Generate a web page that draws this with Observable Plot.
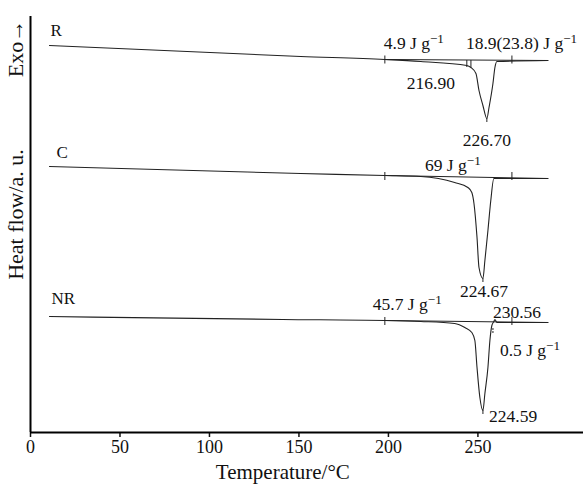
<!DOCTYPE html>
<html><head><meta charset="utf-8">
<script src="https://cdn.jsdelivr.net/npm/d3@7"></script>
<script src="https://cdn.jsdelivr.net/npm/@observablehq/plot@0.6"></script>
<style>body{margin:0;background:#fff}</style>
</head><body><div id="chart"></div>
<script>
// x ticks of the drawn axis
const xTicks = [0, 50, 100, 150, 200, 250];
// curve samples: temperature (read against the drawn axis) and heat flow (a.u.)
const rT  = [10.6, 151.0, 198.0, 218.1, 243.8, 246.1, 248.9, 250.6, 252.8, 255.0, 256.2, 258.4, 259.5, 260.6, 289.1];
const rH  = [387, 376, 373, 371, 367, 365, 359, 342, 327, 314, 325, 349, 365, 371, 372];
const cT  = [10.6, 151.0, 198.0, 218.1, 237.0, 244.4, 246.6, 247.8, 249.5, 250.6, 252.8, 253.9, 255.6, 257.2, 258.9, 289.1];
const cH  = [266, 259, 257, 256, 250, 245, 240, 229, 195, 165, 154, 172, 202, 232, 254, 254];
const nrT = [10.6, 140.9, 198.0, 218.1, 237.0, 242.7, 246.6, 248.3, 249.5, 251.1, 252.8, 253.9, 255.6, 256.7, 257.8, 258.9, 259.5, 260.6, 289.1];
const nrH = [116, 113, 112, 111, 109, 105, 100, 92, 65, 35, 22, 39, 65, 92, 107, 111, 113, 110, 110];
// straight baselines
const baseT = [198.0, 289.1];
const rBase = [373, 372];
const cBase = [257, 254];
const nrBase = [112, 110];
// integration limit markers
const markT = [198.0, 269.0];
const markH = [372.5, 256, 111];
// peaks
const peakT = [255.0, 252.8, 252.8];
const peakH = [314, 154, 22];
// sample names
const names = ["R", "C", "NR"];
const nameT = [11.2, 14.5, 11.7];
const nameH = [402, 280, 134];
// annotations
const annText = ["4.9 J g⁻¹", "18.9(23.8) J g⁻¹", "216.90", "226.70", "69 J g⁻¹", "224.67", "45.7 J g⁻¹", "230.56", "0.5 J g⁻¹", "224.59"];
const annT    = [197.4, 243.3, 223.7, 255.0, 220.4, 253.4, 191.3, 258.4, 262.3, 256.2];
const annH    = [389, 389, 349, 292, 267, 141, 128, 120, 82, 16];
const annAnchor = ["start", "start", "middle", "middle", "start", "middle", "start", "start", "start", "start"];

const line = (T, H) => T.map((t, i) => ({t, h: H[i]}));
const ann = annText.map((s, i) => ({s, t: annT[i], h: annH[i], a: annAnchor[i]}));
const marks3 = [];
markH.forEach(h => markT.forEach(t => marks3.push({t, h})));
const peaks = peakT.map((t, i) => ({t, h: peakH[i]}));
const nameRows = names.map((s, i) => ({s, t: nameT[i], h: nameH[i]}));

const font = "'Liberation Serif','Times New Roman',serif";
const chart = Plot.plot({
  width: 583, height: 485,
  marginLeft: 30, marginRight: 0, marginTop: 16, marginBottom: 53,
  style: {fontFamily: font, fontSize: "17px", color: "#111", background: "#fff"},
  x: {domain: [0, 309], ticks: xTicks},
  y: {domain: [0, 416], axis: null},
  marks: [
    Plot.axisX({ticks: xTicks, tickSize: 5, tickPadding: 3, fontSize: 18, label: null, strokeWidth: 1.5}),
    Plot.ruleY([0], {stroke: "#000", strokeWidth: 2}),
    Plot.ruleX([0], {stroke: "#000", strokeWidth: 2}),
    Plot.line(line(baseT, rBase), {x: "t", y: "h", stroke: "#222", strokeWidth: 1}),
    Plot.line(line(baseT, cBase), {x: "t", y: "h", stroke: "#222", strokeWidth: 1}),
    Plot.line(line(baseT, nrBase), {x: "t", y: "h", stroke: "#222", strokeWidth: 1}),
    Plot.line(line(rT, rH), {x: "t", y: "h", stroke: "#222", strokeWidth: 1.1, curve: "monotone-x"}),
    Plot.line(line(cT, cH), {x: "t", y: "h", stroke: "#222", strokeWidth: 1.1, curve: "monotone-x"}),
    Plot.line(line(nrT, nrH), {x: "t", y: "h", stroke: "#222", strokeWidth: 1.1, curve: "monotone-x"}),
    Plot.ruleX(marks3, {x: "t", y1: d => d.h - 4, y2: d => d.h + 4, stroke: "#222", strokeWidth: 1}),
    Plot.ruleX([243.8, 246.1], {x: d => d, y1: 365, y2: 372, stroke: "#222", strokeWidth: 1}),
    Plot.ruleX([258.4], {x: d => d, y1: 99, y2: 104, stroke: "#222", strokeWidth: 1, strokeDasharray: "2,1"}),
    Plot.ruleX(peaks, {x: "t", y1: d => d.h - 4, y2: "h", stroke: "#222", strokeWidth: 1}),
    Plot.text(nameRows, {x: "t", y: "h", text: "s", textAnchor: "start", fontSize: 17}),
    Plot.text(ann, {x: "t", y: "h", text: "s", textAnchor: "start", fontSize: 17.5}),
    Plot.text(["Temperature/°C"], {x: 141, frameAnchor: "bottom", dy: 46, fontSize: 21}),
    Plot.text(["Heat flow/a. u."], {y: 218, frameAnchor: "left", textAnchor: "middle", dx: -15, rotate: -90, fontSize: 22}),
    Plot.text(["Exo→"], {y: 384, frameAnchor: "left", textAnchor: "middle", dx: -15, rotate: -90, fontSize: 22})
  ]
});
// per-annotation anchors and superscripts
chart.querySelectorAll("text").forEach(t => {
  const s = t.textContent;
  const a = ann.find(d => d.s === s);
  if (a) t.setAttribute("text-anchor", a.a);
  if (s.includes("⁻¹")) {
    t.textContent = s.replace("⁻¹", "");
    const ts = document.createElementNS("http://www.w3.org/2000/svg", "tspan");
    ts.setAttribute("dy", "-0.5em");
    ts.setAttribute("font-size", "0.75em");
    ts.textContent = "−1";
    t.appendChild(ts);
  }
});
document.getElementById("chart").appendChild(chart);
</script></body></html>
